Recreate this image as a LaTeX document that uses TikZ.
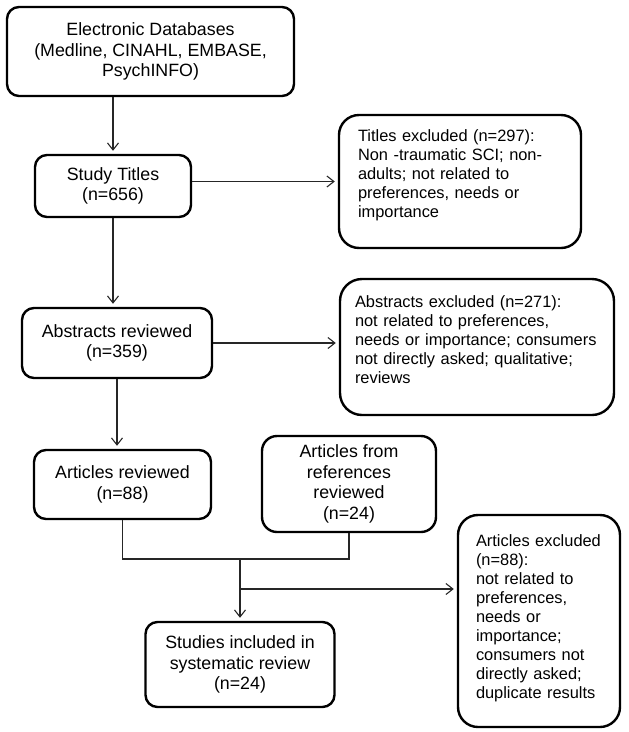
\documentclass[tikz,border=0pt]{standalone}
\usepackage{fontspec}
\setmainfont{Liberation Sans}
\usetikzlibrary{arrows.meta}
\begin{document}
\begin{tikzpicture}[x=1pt,y=-1pt]
	\tikzstyle{stage}=[draw=black,line width=2.4pt,rounded corners=12pt,align=center,inner sep=0pt,font=\fontsize{17.8}{20.5}\selectfont]
	\tikzstyle{excl}=[stage,align=left,inner xsep=19pt,rounded corners=20pt,font=\fontsize{16.4}{19}\selectfont]
	\tikzstyle{link}=[draw,line width=1.1pt,black!85]
	\tikzstyle{edge}=[link,-{Straight Barb[length=7pt,width=11pt]},shorten >=3pt]
	\useasboundingbox (0,0) rectangle (629,732);
	\begin{scope}
		\node [stage,minimum width=287pt,minimum height=89pt] (db) at (150.5,51.5) {Electronic Databases\\(Medline, CINAHL, EMBASE,\\PsychINFO)};
		\node [stage,minimum width=156pt,minimum height=62pt] (st) at (113,186) {Study Titles\\(n=656)};
		\node [excl,text width=204pt,minimum height=133pt,text depth=92pt] (tx) at (460,181.5) {Titles excluded (n=297):\\Non -traumatic SCI; non-\\adults; not related to\\preferences, needs or\\importance};
		\node [stage,minimum width=190pt,minimum height=70pt] (ab) at (117,343) {Abstracts reviewed\\(n=359)};
		\node [excl,inner xsep=15pt,text width=244pt,minimum height=136pt,rounded corners=22pt,text depth=90pt] (ax) at (477,347) {Abstracts excluded (n=271):\\not related to preferences,\\needs or importance; consumers\\not directly asked; qualitative;\\reviews};
		\node [stage,minimum width=177pt,minimum height=69pt] (ar) at (122.5,484.5) {Articles reviewed\\(n=88)};
		\node [stage,minimum width=174pt,minimum height=96pt,rounded corners=15pt] (rf) at (349,484) {Articles from\\references\\reviewed\\(n=24)};
		\node [stage,minimum width=189pt,minimum height=85pt] (inc) at (240,664.5) {Studies included in\\systematic review\\(n=24)};
		\node [excl,inner xsep=18pt,text width=126pt,minimum height=212pt,text depth=160pt] (arx) at (539,621) {Articles excluded\\(n=88):\\not related to\\preferences,\\needs or\\importance;\\consumers not\\directly asked;\\duplicate results};
		\coordinate (join) at (240,559);
		\coordinate (fork) at (240,589);
		\path[edge] (db.south -| st) -- (st.north);
		\path[edge] (st.east |- tx) -- (tx.west);
		\path[edge] (st.south) -- (st.south |- ab.north);
		\path[edge] (ab.east) -- (ab.east -| ax.west);
		\path[edge] (ab.south) -- (ab.south |- ar.north);
		\path[link] (ar.south) |- (join) -| (rf.south);
		\path[edge] (join) -- (join |- inc.north);
		\path[edge] (fork) -- (fork -| arx.west);
	\end{scope}
\end{tikzpicture}
\end{document}
